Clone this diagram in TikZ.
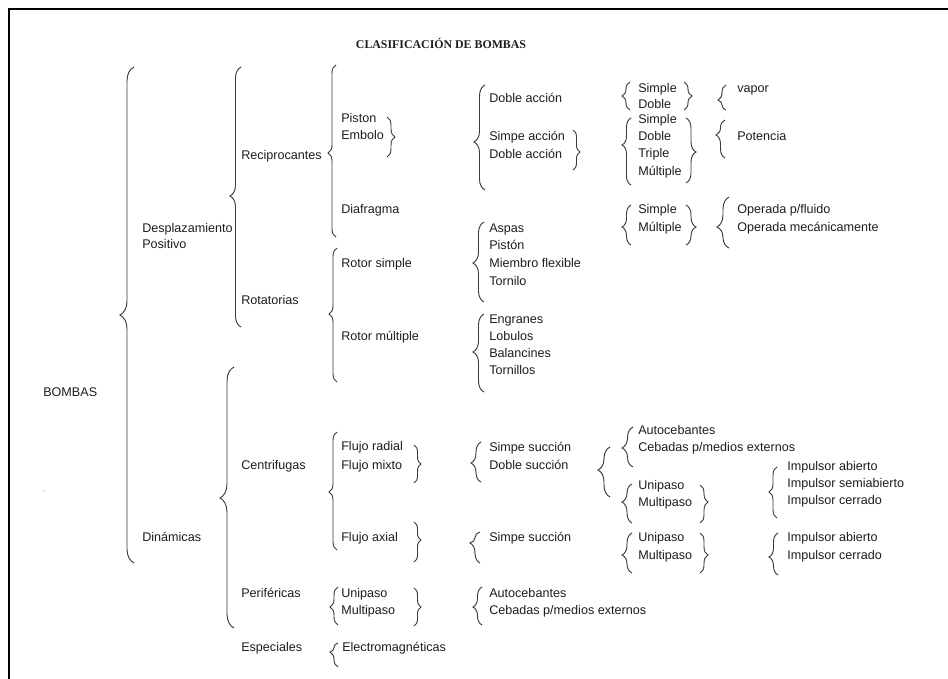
\documentclass[tikz,border=0pt]{standalone}
\usepackage{fontspec}
\setmainfont{Liberation Sans}
\newfontfamily\titlefont{Liberation Serif}
\usetikzlibrary{decorations.pathreplacing}
\definecolor{ink}{HTML}{1E1E1E}
\definecolor{brcol}{HTML}{3A3A3A}

% opening brace "{": ends x, top y, bottom y, tip y, amplitude (px)
\newcommand{\obr}[5]{%
  \pgfmathsetmacro{\brasp}{(#3-#4)/(#3-#2)}%
  \pgfmathsetlengthmacro{\bramp}{#5*0.75pt}%
  \draw[brc, decoration={brace, amplitude=\bramp, aspect=\brasp}] (#1,#3) -- (#1,#2);}
% closing brace "}": ends x, top y, bottom y, tip y, amplitude (px)
\newcommand{\cbr}[5]{%
  \pgfmathsetmacro{\brasp}{(#4-#2)/(#3-#2)}%
  \pgfmathsetlengthmacro{\bramp}{#5*0.75pt}%
  \draw[brc, decoration={brace, amplitude=\bramp, aspect=\brasp}] (#1,#2) -- (#1,#3);}

\begin{document}
\begin{tikzpicture}[x=0.75pt,y=-0.75pt,
  lbl/.style={anchor=base west, inner sep=0pt, yshift=-3pt, text=ink,
              font=\fontsize{9.45pt}{11pt}\selectfont},
  brc/.style={draw=brcol, line width=0.7pt, decorate}]
\useasboundingbox (0,0) rectangle (948,678);
\fill[white] (0,0) rectangle (948,678);
% page frame
\draw[line width=1.5pt, line join=miter] (9,700) -- (9,9) -- (970,9);

% title
\node[anchor=base, inner sep=0pt, text=ink,
      font=\titlefont\bfseries\fontsize{8.9pt}{10pt}\selectfont] (title) at (441,48) {CLASIFICACIÓN DE BOMBAS};

% level 0
\node[lbl] (bombas) at (43,392) {BOMBAS};
\node[lbl, text=gray!60, font=\fontsize{6pt}{7pt}\selectfont] (dash) at (43,489) {-};

% level 1
\node[lbl] (desp) at (142,228) {Desplazamiento};
\node[lbl] (posit) at (142,244) {Positivo};
\node[lbl] (dinam) at (142,537) {Dinámicas};

% level 2
\node[lbl] (recip) at (241,155) {Reciprocantes};
\node[lbl] (rotat) at (241,300) {Rotatorias};
\node[lbl] (centr) at (241,465) {Centrifugas};
\node[lbl] (perif) at (241,593) {Periféricas};
\node[lbl] (espec) at (241,647) {Especiales};

% level 3
\node[lbl] (piston) at (341,118) {Piston};
\node[lbl] (embolo) at (341,135) {Embolo};
\node[lbl] (diaf) at (341,209) {Diafragma};
\node[lbl] (rsimple) at (341,263) {Rotor simple};
\node[lbl] (rmult) at (341,336) {Rotor múltiple};
\node[lbl] (fradial) at (341,446) {Flujo radial};
\node[lbl] (fmixto) at (341,465) {Flujo mixto};
\node[lbl] (faxial) at (341,537) {Flujo axial};
\node[lbl] (unipA) at (341,593) {Unipaso};
\node[lbl] (multA) at (341,610) {Multipaso};
\node[lbl] (electro) at (342,647) {Electromagnéticas};

% level 4
\node[lbl] (dobaccA) at (489,98) {Doble acción};
\node[lbl] (simacc) at (489,136) {Simpe acción};
\node[lbl] (dobaccB) at (489,154) {Doble acción};
\node[lbl] (aspas) at (489,228) {Aspas};
\node[lbl] (pistonB) at (489,245) {Pistón};
\node[lbl] (miembro) at (489,263) {Miembro flexible};
\node[lbl] (tornilo) at (489,281) {Tornilo};
\node[lbl] (engr) at (489,319) {Engranes};
\node[lbl] (lobulos) at (489,336) {Lobulos};
\node[lbl] (balanc) at (489,353) {Balancines};
\node[lbl] (tornillos) at (489,370) {Tornillos};
\node[lbl] (ssucA) at (489,447) {Simpe succión};
\node[lbl] (dsuc) at (489,465) {Doble succión};
\node[lbl] (ssucB) at (489,537) {Simpe succión};
\node[lbl] (autocB) at (489,593) {Autocebantes};
\node[lbl] (cebB) at (489,610) {Cebadas p/medios externos};

% level 5
\node[lbl] (simpA) at (638,88) {Simple};
\node[lbl] (dobA) at (638,104) {Doble};
\node[lbl] (simpB) at (638,119) {Simple};
\node[lbl] (dobB) at (638,136) {Doble};
\node[lbl] (tripB) at (638,153) {Triple};
\node[lbl] (multB) at (638,171) {Múltiple};
\node[lbl] (simpC) at (638,209) {Simple};
\node[lbl] (multC) at (638,227) {Múltiple};
\node[lbl] (autocA) at (638,430) {Autocebantes};
\node[lbl] (cebA) at (638,447) {Cebadas p/medios externos};
\node[lbl] (unipB) at (638,485) {Unipaso};
\node[lbl] (multD) at (638,502) {Multipaso};
\node[lbl] (unipC) at (638,537) {Unipaso};
\node[lbl] (multE) at (638,555) {Multipaso};

% level 6
\node[lbl] (vapor) at (737,88) {vapor};
\node[lbl] (potencia) at (737,136) {Potencia};
\node[lbl] (opfl) at (737,209) {Operada p/fluido};
\node[lbl] (opme) at (737,227) {Operada mecánicamente};
\node[lbl] (iabA) at (787,466) {Impulsor abierto};
\node[lbl] (isemi) at (787,483) {Impulsor semiabierto};
\node[lbl] (icerA) at (787,500) {Impulsor cerrado};
\node[lbl] (iabB) at (787,537) {Impulsor abierto};
\node[lbl] (icerB) at (787,555) {Impulsor cerrado};

% braces
\obr{134}{67}{563}{315}{14}
\obr{241}{67}{327}{196}{11}
\obr{234}{367}{628}{498}{14}
\obr{336}{65}{237}{153}{8}
\obr{337}{248}{382}{314}{8}
\cbr{387}{117}{157}{137}{8}
\obr{485}{85}{190}{142}{11}
\cbr{573}{130}{170}{152}{7}
\obr{630}{82}{110}{96}{8}
\cbr{684}{82}{110}{96}{8}
\obr{726}{85}{110}{100}{8}
\obr{631}{118}{185}{145}{9}
\cbr{686}{118}{183}{152}{10}
\obr{725}{120}{158}{135}{9}
\obr{631}{205}{245}{227}{9}
\cbr{686}{205}{245}{227}{10}
\obr{729}{197}{248}{227}{12}
\obr{484}{222}{302}{263}{11}
\obr{484}{314}{392}{352}{11}
\obr{337}{432}{550}{492}{8}
\cbr{414}{445}{483}{464}{7}
\cbr{414}{522}{562}{540}{7}
\obr{481}{442}{482}{463}{10}
\obr{610}{447}{497}{470}{12}
\obr{633}{427}{467}{448}{11}
\obr{632}{484}{523}{502}{10}
\cbr{700}{485}{523}{502}{8}
\obr{777}{467}{518}{492}{8}
\obr{480}{532}{563}{543}{10}
\obr{632}{533}{573}{555}{10}
\cbr{700}{533}{573}{555}{8}
\obr{778}{533}{575}{557}{9}
\obr{338}{587}{625}{607}{8}
\cbr{414}{588}{626}{607}{7}
\obr{482}{587}{625}{607}{9}
\obr{338}{643}{667}{652}{8}
\end{tikzpicture}
\end{document}
